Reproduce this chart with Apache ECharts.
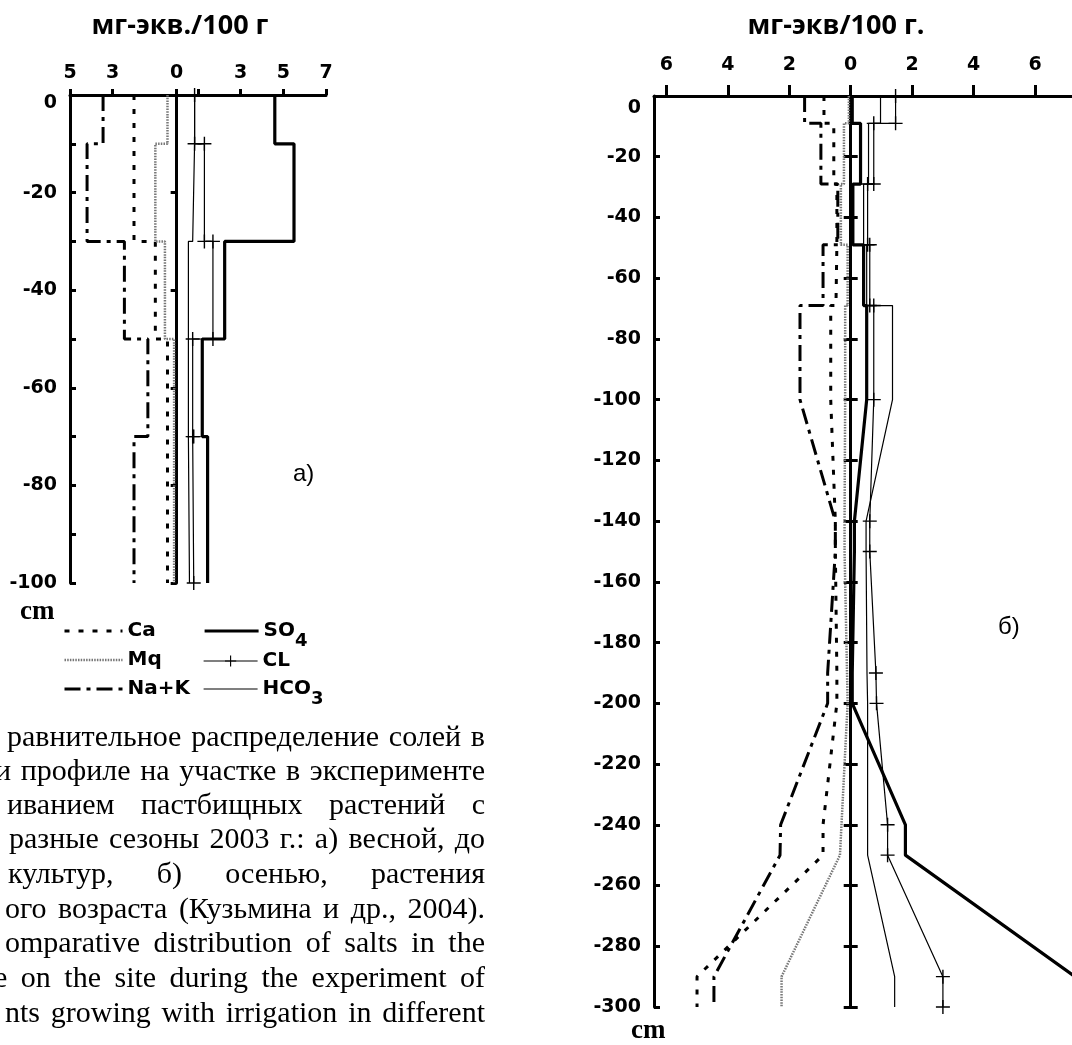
<!DOCTYPE html>
<html><head><meta charset="utf-8">
<script src="https://cdn.jsdelivr.net/npm/echarts@6/dist/echarts.min.js"></script>
<style>html,body{margin:0;padding:0;background:#fff}#c{width:1072px;height:1045px}</style>
</head><body><div id="c"></div>
<script>
// ===== Chart а) spring: layer boundaries (cm) and layer values (мг-экв/100 г)
const depthA = [0, -10, -30, -50, -70, -100];
const caA   = [-2.0, -2.0, -1.0, -0.43, -0.43];
const mqA   = [-0.43, -1.0, -0.55, -0.12, -0.12];
const nakA  = [-3.45, -4.2, -2.45, -1.35, -2.0];
const so4A  = [4.6, 5.5, 2.25, 1.2, 1.45];
const clA   = [0.84, 1.3, 1.7, 0.75, 0.8];
const hco3A = [0.84, 0.75, 0.55, 0.55, 0.6];

// ===== Chart б) autumn: profile points [value, depth]
const caB = [[-0.87,0],[-0.87,-9],[-0.55,-9],[-0.55,-29],[-0.45,-29],[-0.45,-49],[-0.48,-49],[-0.48,-69],[-0.65,-69],[-0.65,-100],[-0.5,-140],[-0.5,-150],[-0.45,-190],[-0.45,-200],[-0.9,-240],[-0.9,-250],[-5.0,-290],[-5.0,-300]];
const mqB = [[-0.06,0],[-0.06,-9],[-0.22,-9],[-0.22,-29],[-0.32,-29],[-0.32,-49],[-0.1,-49],[-0.1,-69],[-0.18,-69],[-0.18,-100],[-0.2,-140],[-0.2,-150],[-0.12,-190],[-0.1,-200],[-0.3,-240],[-0.35,-250],[-2.25,-290],[-2.25,-300]];
const nakB = [[-1.5,0],[-1.5,-9],[-0.97,-9],[-0.97,-29],[-0.42,-29],[-0.42,-49],[-0.9,-49],[-0.9,-69],[-1.65,-69],[-1.65,-100],[-0.5,-140],[-0.5,-150],[-0.75,-190],[-0.75,-200],[-2.28,-240],[-2.3,-250],[-4.45,-290],[-4.45,-300]];
const so4B = [[0.05,0],[0.05,-9],[0.32,-9],[0.32,-29],[0.07,-29],[0.07,-49],[0.42,-49],[0.42,-69],[0.52,-69],[0.52,-100],[0.12,-140],[0.12,-150],[0.05,-190],[0.05,-200],[1.78,-240],[1.78,-250],[7.3,-290],[7.3,-300]];
const clB = [[1.46,0],[1.46,-9],[0.75,-9],[0.75,-29],[0.55,-29],[0.55,-49],[0.62,-49],[0.62,-69],[0.75,-69],[0.75,-100],[0.62,-140],[0.62,-150],[0.82,-190],[0.84,-200],[1.2,-240],[1.2,-250],[3.0,-290],[3.0,-300]];
const hco3B = [[0.97,0],[0.97,-9],[0.58,-9],[0.58,-29],[0.42,-29],[0.42,-49],[0.52,-49],[0.52,-69],[1.36,-69],[1.36,-100],[0.5,-140],[0.5,-150],[0.53,-190],[0.55,-200],[0.55,-240],[0.55,-250],[1.43,-290],[1.43,-300]];

// ===== Axis ticks / labels
const xTicksA  = [-5, -3, 0, 1, 3, 5, 7];
const xLabelsA = [-5, -3, 0, 3, 5, 7];
const yTicksA  = [0, -10, -20, -30, -40, -50, -60, -70, -80, -90, -100];
const yLabelsA = [0, -20, -40, -60, -80, -100];
const zeroTicksA = [-20, -40, -60, -80, -100];
const xTicksB  = [-6, -4, -2, 0, 2, 4, 6];
const yTicksB  = [0, -20, -40, -60, -80, -100, -120, -140, -160, -180, -200, -220, -240, -260, -280, -300];
const zeroTicksB = [-20, -40, -60, -80, -100, -120, -140, -160, -180, -200, -220, -240, -260, -280, -300];

const seriesNames = ['Ca', 'Mq', 'Na+K', 'SO4', 'CL', 'HCO3'];
const titleA = 'мг-экв./100 г';
const titleB = 'мг-экв/100 г.';
const captionLines = [
  'равнительное распределение солей в',
  'и профиле на участке в эксперименте',
  'иванием пастбищных растений с',
  'разные сезоны 2003 г.: а) весной, до',
  'культур, б) осенью, растения',
  'ого возраста (Кузьмина и др., 2004).',
  'omparative distribution of salts in the',
  'e on the site during the experiment of',
  'nts growing with irrigation in different'
];

// ===== build
function steps(vals, depths) {
  const out = [];
  for (let i = 0; i < vals.length; i++) { out.push([vals[i], depths[i]]); out.push([vals[i], depths[i + 1]]); }
  return out;
}
const dataA = {'Ca': steps(caA, depthA), 'Mq': steps(mqA, depthA), 'Na+K': steps(nakA, depthA),
               'SO4': steps(so4A, depthA), 'CL': steps(clA, depthA), 'HCO3': steps(hco3A, depthA)};
const dataB = {'Ca': caB, 'Mq': mqB, 'Na+K': nakB, 'SO4': so4B, 'CL': clB, 'HCO3': hco3B};

const LS = {
  'Ca':   {color: '#000', width: 3, type: [5, 9]},
  'Mq':   {color: '#777', width: 2.5, type: [1.5, 1.2]},
  'Na+K': {color: '#000', width: 3, type: [16, 6, 4, 6]},
  'SO4':  {color: '#000', width: 3.2, type: 'solid'},
  'CL':   {color: '#000', width: 1.2, type: 'solid'},
  'HCO3': {color: '#000', width: 1.2, type: 'solid'}
};
const CROSS = 'path://M5.4,0H6.6V5.4H12V6.6H6.6V12H5.4V6.6H0V5.4H5.4Z';

function mk(name, data, xi, yi) {
  const cl = name === 'CL';
  return {
    type: 'line', name: name, data: data, xAxisIndex: xi, yAxisIndex: yi,
    animation: false, silent: true, clip: true,
    symbol: cl ? CROSS : 'none', symbolSize: cl ? 14 : 0, showSymbol: cl,
    lineStyle: Object.assign({}, LS[name]),
    itemStyle: {color: cl ? '#000' : 'transparent'},
    emphasis: {disabled: true},
    z: name === 'SO4' ? 4 : 3
  };
}
const series = [];
seriesNames.forEach(n => series.push(mk(n, dataA[n], 0, 0)));
seriesNames.forEach(n => series.push(mk(n, dataB[n], 1, 2)));

const LBL = {fontFamily: 'DejaVu Sans', fontWeight: 'bold', fontSize: 19, color: '#000'};

function xAxis(gi, min, max, ticks, labels, tickLen, margin) {
  return {type: 'value', gridIndex: gi, position: 'top', min: min, max: max,
    axisLine: {show: true, onZero: false, lineStyle: {color: '#000', width: 3}},
    axisTick: {show: true, length: tickLen, customValues: ticks, lineStyle: {color: '#000', width: 3}},
    axisLabel: Object.assign({show: true, margin: margin, customValues: labels, formatter: v => String(Math.abs(v))}, LBL),
    splitLine: {show: false}};
}
function yMain(gi, min, ticks, labels, zeroPad) {
  return {type: 'value', gridIndex: gi, position: 'left', min: min, max: 0,
    axisLine: {show: true, onZero: false, lineStyle: {color: '#000', width: 3}},
    axisTick: {show: true, inside: true, length: 6, customValues: ticks, lineStyle: {color: '#000', width: 3}},
    axisLabel: Object.assign({show: true, margin: 13, customValues: labels,
      formatter: v => v === 0 ? '{z|0}' : String(v),
      rich: {z: Object.assign({padding: [zeroPad, 0, 0, 0]}, LBL)}}, LBL),
    splitLine: {show: false}};
}
function yZero(gi, xi, min, pos, ticks, len) {
  return {type: 'value', gridIndex: gi, position: pos, min: min, max: 0,
    axisLine: {show: true, onZero: true, onZeroAxisIndex: xi, lineStyle: {color: '#000', width: 3}},
    axisTick: {show: true, inside: false, length: len, customValues: ticks, lineStyle: {color: '#000', width: 3}},
    axisLabel: {show: false}, splitLine: {show: false}};
}

// caption graphic (justified lines)
const CAP_FONT = '30px "Liberation Serif"';
const mctx = document.createElement('canvas').getContext('2d');
mctx.font = CAP_FONT;
const capX0 = [7, -5, 7, 9, 8, 5, 5, -6, 5];
const capY = [738, 772, 806, 840, 875, 910, 944, 979, 1014];
const capRight = 485;
const graphic = [];
captionLines.forEach((line, i) => {
  const words = line.split(' ');
  const widths = words.map(w => mctx.measureText(w).width);
  const total = widths.reduce((a, b) => a + b, 0);
  const gap = (capRight - capX0[i] - total) / (words.length - 1);
  let x = capX0[i];
  words.forEach((w, k) => {
    graphic.push({type: 'text', x: x, y: capY[i], silent: true,
      style: {text: w, font: CAP_FONT, fill: '#000', align: 'left', verticalAlign: 'middle'}});
    x += widths[k] + gap;
  });
});
const TITLE_FONT = 'bold 27px "Open Sans"';
graphic.push({type: 'text', x: 180, y: 26, style: {text: titleA, font: TITLE_FONT, fill: '#000', align: 'center', verticalAlign: 'middle'}});
graphic.push({type: 'text', x: 836, y: 26, style: {text: titleB, font: TITLE_FONT, fill: '#000', align: 'center', verticalAlign: 'middle'}});
graphic.push({type: 'text', x: 20, y: 612, style: {text: 'cm', font: 'bold 27px "Liberation Serif"', fill: '#000', align: 'left', verticalAlign: 'middle'}});
graphic.push({type: 'text', x: 631, y: 1031, style: {text: 'cm', font: 'bold 27px "Liberation Serif"', fill: '#000', align: 'left', verticalAlign: 'middle'}});
graphic.push({type: 'text', x: 293, y: 474, style: {text: 'a)', font: '24px "Liberation Sans"', fill: '#000', align: 'left', verticalAlign: 'middle'}});
graphic.push({type: 'text', x: 998, y: 627, style: {text: 'б)', font: '24px "Liberation Sans"', fill: '#000', align: 'left', verticalAlign: 'middle'}});

// legend rows; subscripts sit at the bottom of the row
const legendRich = {
  n: {fontFamily: 'DejaVu Sans', fontWeight: 'bold', fontSize: 20, lineHeight: 38, verticalAlign: 'middle', color: '#000'},
  s: {fontFamily: 'DejaVu Sans', fontWeight: 'bold', fontSize: 18, lineHeight: 38, verticalAlign: 'bottom', color: '#000'}
};
const legendFmt = name => ({'SO4': '{n|SO}{s|4}', 'HCO3': '{n|HCO}{s|3}'}[name] || '{n|' + name + '}');
function legend(names, left, top, iw) {
  return {data: names, orient: 'vertical', left: left, top: top, padding: 0, itemGap: 9,
    itemWidth: iw, itemHeight: 14, selectedMode: false, formatter: legendFmt,
    textStyle: {rich: legendRich},
    lineStyle: {width: 'inherit', type: 'inherit', color: 'inherit'}};
}

const option = {
  backgroundColor: '#fff',
  animation: false,
  grid: [
    {left: 70, top: 95, width: 256, height: 488, outerBoundsMode: 'none', containLabel: false},
    {left: 654, top: 96, width: 418, height: 911, outerBoundsMode: 'none', containLabel: false}
  ],
  xAxis: [
    xAxis(0, -5, 7, xTicksA, xLabelsA, 6, 12),
    xAxis(1, -6.4, 7.2, xTicksB, xTicksB, 11, 21)
  ],
  yAxis: [
    yMain(0, -100, yTicksA, yLabelsA, 16),
    yZero(0, 0, -100, 'left', zeroTicksA, 6),
    yMain(1, -300, yTicksB, yTicksB, 24),
    yZero(1, 1, -300, 'left', zeroTicksB, 7),
    yZero(1, 1, -300, 'right', zeroTicksB, 7)
  ],
  legend: [
    legend(['Ca', 'Mq', 'Na+K'], 63, 621, 58),
    legend(['SO4'], 203, 621, 54),
    legend(['CL'], 203, 651, 54),
    legend(['HCO3'], 203, 679, 54)
  ],
  graphic: graphic,
  series: series
};
const chart = echarts.init(document.getElementById('c'));
chart.setOption(option);
</script></body></html>
